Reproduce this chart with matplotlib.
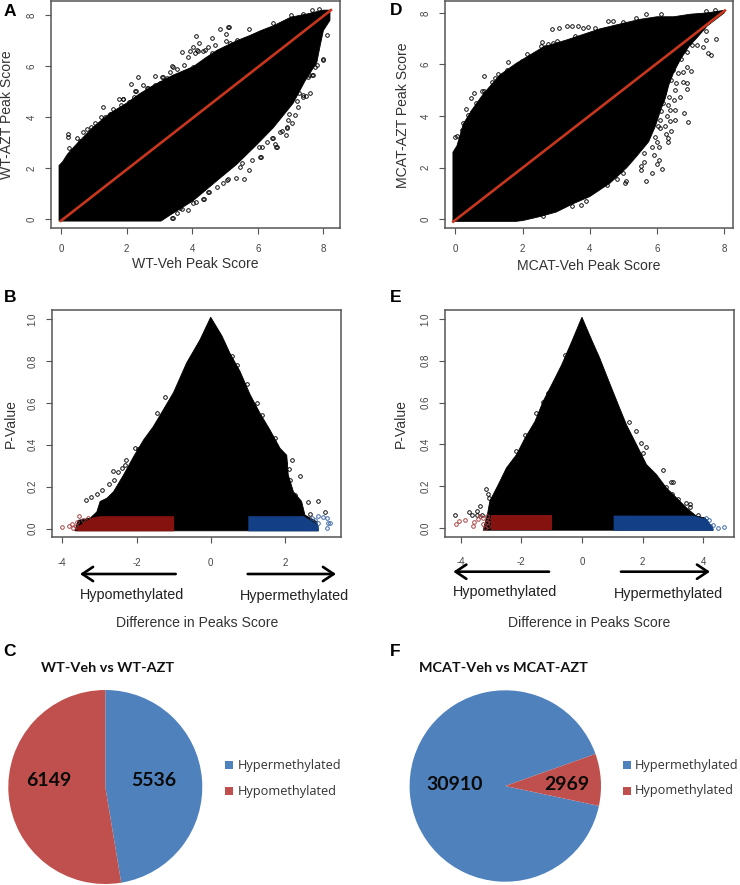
import numpy as np
import matplotlib
matplotlib.use("Agg")
import matplotlib.pyplot as plt
from matplotlib.transforms import Affine2D
from matplotlib.patches import FancyArrowPatch, Rectangle

W, H = 740, 885

# ---------- Panel A ----------
a_up_x = [-0.06,-0.06,0.05,0.2,0.48,0.99,1.49,2.0,2.4,2.82,3.42,4.03,4.4,4.75,5.36,5.75,6.1,6.5,7,7.5,8,8.2]
a_up_y = [-0.08,2.1,2.25,2.55,2.95,3.62,4.15,4.55,4.92,5.25,5.65,5.98,6.32,6.62,7.0,7.2,7.4,7.6,7.92,8.05,8.2,8.2]
a_lo_x = [8.2,8.0,7.9,7.8,7.44,7.08,6.47,5.97,5.36,4.75,4.03,3.32,3.05,-0.06]
a_lo_y = [7.8,7.4,6.8,6.15,5.42,4.55,3.58,2.92,2.15,1.5,0.72,0.15,-0.08,-0.08]
a_out_x = [0.22,0.22,0.24,0.66,1.27,2.12,2.36,2.27,2.61,2.87,3.11,3.39,3.68,3.86,3.94,4.03,4.13,4.22,4.14,4.34,4.59,4.85,5.10,5.12,5.02,5.02,5.15,5.74,6.47,7.01,7.37,7.64,7.88,
           0.50,0.58,0.80,0.90,1.04,1.21,1.34,1.49,1.60,1.83,1.78,1.88,1.90,2.07,2.23,2.29,2.46,2.49,2.66,2.87,3.02,3.09,3.22,3.32,3.40,3.55,3.75,4.03,4.09,4.19,4.39,4.49,4.69,4.59,5.36,5.20,
           3.88,3.39,3.27,3.63,4.34,4.11,4.49,4.75,5.05,5.34,5.58,5.74,5.83,6.07,6.05,6.52,6.54,6.86,6.90,7.03,7.13,7.22,7.18,7.59,7.39,7.98,8.10,7.74,7.64,7.54,6.27,6.42,6.68,
           3.42,3.17,3.53,3.68,4.03,4.37,4.52,4.95,5.10,5.51,5.46,6.09,6.12,6.58,6.29,6.47,6.88,6.73,6.93,6.96,7.46,7.37,7.27,7.69,7.57,7.80,8.00]
a_out_y = [3.34,3.23,2.77,3.42,4.40,5.30,5.56,5.01,5.16,5.60,5.59,6.01,6.56,6.37,6.60,6.77,7.20,6.90,6.64,6.60,7.12,7.45,7.53,7.55,7.26,7.00,6.92,7.46,7.71,8.00,8.05,8.21,8.23,
           3.17,3.08,3.52,3.63,3.78,3.99,4.02,4.11,4.32,4.48,4.71,4.71,4.71,4.61,4.78,5.01,4.83,5.26,5.13,5.26,5.35,5.59,5.52,5.79,5.98,5.88,6.05,5.98,6.51,6.61,6.64,6.77,6.83,6.51,7.03,6.83,
           0.34,0.03,0.35,0.42,0.77,0.68,1.07,1.27,1.53,1.62,1.57,1.92,2.32,2.45,2.84,2.93,2.83,3.30,3.60,3.76,4.08,4.38,4.65,4.96,4.87,6.27,7.23,5.98,5.65,5.59,3.63,3.17,3.43,
           0.03,0.22,0.25,0.39,0.64,0.77,1.07,1.43,1.56,2.19,2.05,2.45,2.81,2.81,3.04,3.17,3.59,3.47,3.89,4.11,4.83,4.80,4.93,5.65,5.65,6.05,6.24]
a_line_x = [0.0, 8.23]
a_line_y = [-0.07, 8.2]

# ---------- Panel D ----------
d_up_x = [-0.07,-0.07,0.05,0.24,0.5,0.83,1.33,1.82,2.62,3.31,4.3,5,5.5,6,6.5,7,7.5,8]
d_up_y = [-0.08,2.6,2.85,3.7,4.25,4.85,5.6,6.05,6.68,6.95,7.38,7.6,7.75,7.85,7.85,7.95,8.0,8.1]
d_lo_x = [8,7.8,7.5,7.2,6.95,6.7,6.5,6.35,6.25,6.1,5.95,5.75,5.4,5.1,4.6,4,3.5,3,2.5,2,1.8,-0.07]
d_lo_y = [8.0,7.8,7.5,7.05,6.7,6.2,5.7,5.2,4.7,4.2,3.6,3.0,2.45,2.0,1.4,0.88,0.6,0.28,0.1,-0.05,-0.08,-0.08]
d_out_x = [-0.01,0.06,0.19,0.24,0.31,0.39,0.49,0.47,0.55,0.63,0.78,0.85,0.85,1.08,1.18,1.26,1.33,1.53,1.58,1.73,1.87,1.97,2.12,2.27,2.42,2.54,2.57,2.67,2.77,2.91,3.03,2.87,3.08,3.31,3.46,3.66,3.26,3.56,3.81,3.96,4.17,4.55,4.69,4.99,4.85,4.35,5.39,5.67,6.13,7.72,7.47,
           5.67,5.85,6.15,6.00,6.05,5.52,5.52,5.61,5.05,5.07,4.82,4.50,5.00,5.91,6.07,6.32,6.32,6.28,6.43,6.00,5.84,5.62,6.23,6.40,6.53,6.92,6.79,6.31,6.55,6.40,6.18,6.32,6.68,6.51,6.89,6.90,6.76,6.58,6.53,7.00,6.88,6.78,6.63,6.48,6.33,6.13,6.22,6.43,6.58,7.60,7.52,7.77,7.47,7.37,7.20,7.47,7.03,6.88,6.09,5.94,5.84,6.09,
           3.89,3.74,3.46,2.60,6.70,6.25,6.35,6.12,6.02]
d_out_y = [3.20,3.24,3.46,3.72,4.28,4.04,4.17,4.69,4.88,4.50,4.97,4.97,5.54,5.34,5.47,5.65,5.53,5.79,6.09,5.88,6.01,6.15,6.39,6.24,6.37,6.73,6.86,6.69,6.78,6.82,6.91,7.39,7.40,7.51,7.49,7.49,6.76,7.12,7.40,7.47,7.43,7.69,7.69,7.66,7.47,7.34,7.79,7.96,7.96,8.11,8.09,
           1.50,1.78,1.94,2.13,2.30,1.91,2.07,2.24,1.40,1.50,1.55,1.33,1.78,2.48,2.79,2.98,3.14,3.31,3.42,3.01,2.82,2.56,3.62,3.82,3.85,3.79,4.13,4.01,4.24,4.24,4.50,4.43,4.73,4.63,5.04,5.30,5.34,5.27,5.01,5.75,5.89,5.72,5.66,5.79,5.66,5.27,4.88,5.40,6.11,6.37,6.46,6.98,6.93,6.69,6.76,7.31,6.76,6.50,3.53,3.20,3.72,3.85,
           0.71,0.56,0.53,0.13,6.20,5.10,4.75,4.20,3.60]
d_line_x = [-0.06, 8.02]
d_line_y = [-0.09, 8.09]

# ---------- Panel B ----------
b_env_x = [-3.66,-3.57,-3.25,-3.07,-2.98,-2.80,-2.62,-2.35,-2.08,-1.81,-1.55,-1.28,-1.0,-0.65,-0.29,0,0.30,0.52,0.79,1.06,1.33,1.60,1.87,2.05,2.09,2.23,2.45,2.54,2.86,2.9]
b_env_y = [-0.01,0.04,0.05,0.08,0.13,0.145,0.176,0.256,0.343,0.423,0.486,0.566,0.65,0.79,0.90,1.008,0.92,0.836,0.75,0.64,0.55,0.47,0.383,0.35,0.256,0.176,0.13,0.065,0.033,-0.01]
b_black_x = [-1.23,-1.46,-2.04,-1.95,-2.28,-2.64,-2.51,-2.40,-2.31,-3.36,-3.23,-3.07,-2.94,-2.73,-2.60,0.58,0.72,0.97,1.26,1.37,1.73,2.18,2.00,2.12,2.41,2.14,2.27,2.88,2.63,3.08,2.68]
b_black_y = [0.628,0.55,0.386,0.38,0.328,0.275,0.269,0.291,0.304,0.137,0.149,0.164,0.184,0.211,0.232,0.824,0.78,0.688,0.598,0.542,0.431,0.328,0.312,0.283,0.251,0.232,0.161,0.132,0.129,0.081,0.07]
b_red_x = [-3.62,-3.4,-3.2,-3.0,-1.0]
b_red_top = [0.01,0.035,0.055,0.062,0.062]
b_blue_x = [1.0,2.5,2.7,2.9]
b_blue_top = [0.062,0.062,0.04,0.015]
b_redpts_x = [-4.01,-3.81,-3.75,-3.72,-3.55,-3.61,-3.57,-3.63,-3.43,-3.32]
b_redpts_y = [0.006,0.014,0.021,0.002,0.059,0.03,0.002,0.014,0.041,0.052]
b_bluepts_x = [2.90,3.02,3.13,3.22,3.17,3.13,2.90,2.81,2.75,2.63,2.54,2.45,2.72]
b_bluepts_y = [0.062,0.054,0.049,0.025,0.025,0.005,0.025,0.041,0.017,0.01,0.041,0.049,0.052]

# ---------- Panel E ----------
e_env_x = [-3.26,-3.12,-3.04,-2.76,-2.49,-2.16,-1.88,-1.55,-1.28,-1.0,-0.67,-0.34,0,0.32,0.59,0.87,1.20,1.47,1.80,2.13,2.46,2.79,3.12,3.45,3.78,4.06,4.33]
e_env_y = [-0.01,0.065,0.129,0.208,0.288,0.351,0.43,0.51,0.606,0.685,0.78,0.89,1.008,0.90,0.812,0.709,0.59,0.494,0.40,0.304,0.256,0.192,0.145,0.097,0.057,0.049,-0.01]
e_black_x = [-4.18,-3.74,-3.64,-3.45,-3.37,-3.45,-3.29,-3.17,-3.11,-3.06,-1.52,-1.13,-1.28,-1.88,-2.16,-0.56,1.77,1.56,1.95,2.13,2.02,2.66,2.94,3.01,2.79,3.45,3.56,3.56,3.84,2.96,3.18]
e_black_y = [0.065,0.075,0.062,0.065,0.105,0.084,0.065,0.189,0.161,0.145,0.55,0.645,0.603,0.444,0.37,0.825,0.463,0.506,0.407,0.388,0.359,0.28,0.221,0.221,0.196,0.121,0.113,0.10,0.065,0.164,0.137]
e_red_x = [-3.0,-1.0]
e_red_top = [0.062,0.062]
e_blue_x = [1.03,3.67,4.11,4.33]
e_blue_top = [0.062,0.062,0.045,0.0]
e_redpts_x = [-4.16,-4.05,-3.86,-3.56,-3.61,-3.42,-3.37,-3.26,-3.15,-3.2,-3.09,-3.06,-3.26,-3.15]
e_redpts_y = [0.021,0.032,0.04,0.03,0.01,0.045,0.057,0.021,0.03,0.002,0.01,0.04,0.05,0.057]
e_bluepts_x = [4.69,4.5,4.33,4.11,4.2,4.22]
e_bluepts_y = [0.006,0.002,0.014,0.049,0.041,0.01]

# ---------- Pies ----------
pie_labels = ["Hypermethylated", "Hypomethylated"]
c_values = [5536, 6149]
f_values = [30910, 2969]

BLUE, RED = "#4F81BD", "#C0504D"
DARKRED, DARKBLUE = "#861210", "#123F86"
LINE = "#C8361E"
GREY = "#555555"
SANS = "Liberation Sans"

plt.rcParams["font.family"] = [SANS, "DejaVu Sans"]
plt.rcParams["axes.unicode_minus"] = False
fig = plt.figure(figsize=(W / 100, H / 100), dpi=100)
px = Affine2D().scale(1 / W, -1 / H).translate(0, 1) + fig.transFigure


def axes_px(l, t, r, b):
    return fig.add_axes([l / W, 1 - b / H, (r - l) / W, (b - t) / H])


def style(ax, xticks, yticks, xpad):
    for s in ax.spines.values():
        s.set_color(GREY)
        s.set_linewidth(1.1)
    ax.set_xticks(xticks)
    ax.set_yticks(yticks)
    ax.tick_params(axis="x", length=4.2, width=0.8, color=GREY, labelsize=7,
                   labelcolor="#444444", pad=xpad)
    ax.tick_params(axis="y", length=4.2, width=0.8, color=GREY, labelsize=7,
                   labelcolor="#444444", pad=6)
    for t in ax.get_yticklabels():
        t.set_rotation(90)
        t.set_va("center")


def pts(ax, x, y, color):
    ax.plot(x, y, ls="none", marker="o", ms=2.6, mfc="none", mec=color, mew=0.65, zorder=3)


def labels(ax, xl, xpos, yl, ypos):
    ax.set_xlabel(xl, fontsize=10.1, color="#333333", va="center")
    ax.xaxis.set_label_coords(*xpos, transform=px)
    ax.set_ylabel(yl, fontsize=10.1, color="#333333", va="center")
    ax.yaxis.set_label_coords(*ypos, transform=px)


def scatter_panel(box, xlim, ylim, ux, uy, lx, ly, ox, oy, lnx, lny, xl, xpos, yl, ypos):
    ax = axes_px(*box)
    ax.fill(np.r_[ux, lx], np.r_[uy, ly], color="black", lw=0.6, zorder=2)
    pts(ax, ox, oy, "black")
    ax.plot(lnx, lny, color=LINE, lw=1.9, zorder=4)
    ax.set_xlim(*xlim)
    ax.set_ylim(*ylim)
    style(ax, [0, 2, 4, 6, 8], [0, 2, 4, 6, 8], 7.5)
    labels(ax, xl, xpos, yl, ypos)


def volcano_panel(box, xlim, ex, ey, kx, ky, rx, rt, bx, bt, rpx, rpy, bpx, bpy, xt, xl, xpos, yl, ypos):
    ax = axes_px(*box)
    ax.fill(ex, ey, color="black", lw=0.6, zorder=2)
    pts(ax, kx, ky, "black")
    ax.fill_between(rx, -0.01, rt, color=DARKRED, lw=0, zorder=3.5)
    ax.fill_between(bx, -0.01, bt, color=DARKBLUE, lw=0, zorder=3.5)
    pts(ax, rpx, rpy, "#A33A3A")
    pts(ax, bpx, bpy, "#2F5F9F")
    ax.set_xlim(*xlim)
    ax.set_ylim(-0.041, 1.041)
    style(ax, xt, [0, 0.2, 0.4, 0.6, 0.8, 1.0], 10.5)
    labels(ax, xl, xpos, yl, ypos)


scatter_panel((50.7, 0.7, 340, 227.7), (-0.314, 8.506), (-0.34, 8.57), a_up_x, a_up_y, a_lo_x, a_lo_y,
              a_out_x, a_out_y, a_line_x, a_line_y, "WT-Veh Peak Score", (195, 264), "WT-AZT Peak Score", (7, 115))
scatter_panel((444.7, 1, 733.3, 228), (-0.315, 8.27), (-0.337, 8.46), d_up_x, d_up_y, d_lo_x, d_lo_y,
              d_out_x, d_out_y, d_line_x, d_line_y, "MCAT-Veh Peak Score", (589, 266), "MCAT-AZT Peak Score", (403, 115))
volcano_panel((51.7, 310.3, 341.3, 537.3), (-4.286, 3.52), b_env_x, b_env_y, b_black_x, b_black_y,
              b_red_x, b_red_top, b_blue_x, b_blue_top, b_redpts_x, b_redpts_y, b_bluepts_x, b_bluepts_y,
              [-4, -2, 0, 2], "Difference in Peaks Score", (196.7, 622.7), "P-Value", (11, 424))
volcano_panel((444.7, 310.3, 734, 536.7), (-4.53, 5.02), e_env_x, e_env_y, e_black_x, e_black_y,
              e_red_x, e_red_top, e_blue_x, e_blue_top, e_redpts_x, e_redpts_y, e_bluepts_x, e_bluepts_y,
              [-4, -2, 0, 2, 4], "Difference in Peaks Score", (589, 622.7), "P-Value", (400.7, 424))


def pie_panel(cx, cy, r, values, start, title, tx, ty, texts, leg_x, leg_y):
    ax = axes_px(cx - r, cy - r, cx + r, cy + r)
    ax.pie(values, colors=[BLUE, RED], startangle=start, counterclock=False, radius=1,
           wedgeprops=dict(lw=0))
    ax.set_xlim(-1, 1)
    ax.set_ylim(-1, 1)
    fig.text(tx, ty, title, transform=px, family="Lato", weight="bold", fontsize=10.4,
             color="#111111", ha="center", va="center")
    for (x, y), v in zip(texts, values):
        fig.text(x, y, str(v), transform=px, family="Lato", weight="bold", fontsize=14,
                 color="#0A0A0A", ha="center", va="center")
    for i, (lab, col) in enumerate(zip(pie_labels, [BLUE, RED])):
        y = leg_y[i]
        fig.add_artist(Rectangle((leg_x, y + 4), 8, -8, transform=px, facecolor=col, lw=0))
        fig.text(leg_x + 12.5, y, lab, transform=px, family="Open Sans", fontsize=9.2,
                 color="#333333", ha="left", va="center")


pie_panel(105.3, 787, 97, c_values, 90, "WT-Veh vs WT-AZT", 108, 667.7,
          [(153.3, 780.7), (49, 780.7)], 225, [765.3, 791])
pie_panel(505.3, 786, 95.7, f_values, -12, "MCAT-Veh vs MCAT-AZT", 503, 668,
          [(454.7, 784), (567, 784)], 622.7, [765.3, 790.5])

for s, x, y in [("A", 10, 11), ("B", 10, 298), ("C", 10, 651), ("D", 396, 10.5), ("E", 396, 298), ("F", 395, 651)]:
    fig.text(x, y, s, transform=px, weight="bold", fontsize=12.5, color="black", ha="center", va="center")

for s, x, y in [("Hypomethylated", 131.7, 595), ("Hypermethylated", 294.7, 596),
                ("Hypomethylated", 505, 592.3), ("Hypermethylated", 668.3, 594)]:
    fig.text(x, y, s, transform=px, fontsize=10.4, color="#222222", ha="center", va="center")

for x0, x1, y in [(175.7, 80, 574), (247.7, 336, 574), (549, 453.3, 571.7), (621, 710, 571.7)]:
    fig.add_artist(FancyArrowPatch(
        (x0, y), (x1, y), transform=px, arrowstyle="->,head_length=4.8,head_width=3.2",
        color="black", lw=1.9, shrinkA=0, shrinkB=0, mutation_scale=1.6))

fig.savefig("out.png", dpi=100)
